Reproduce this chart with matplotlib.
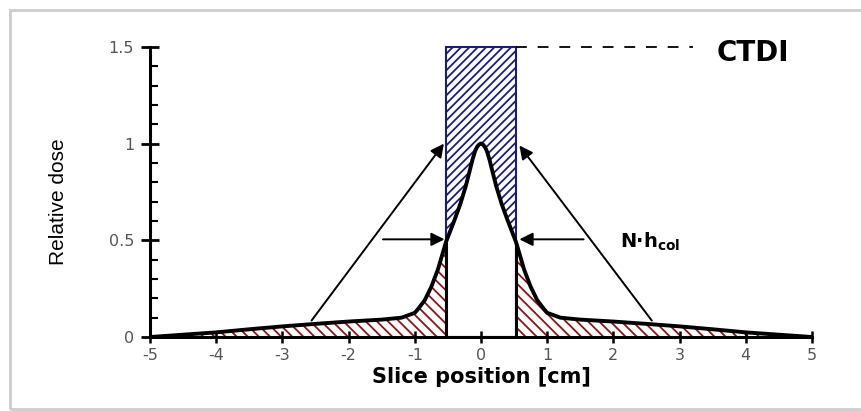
import matplotlib
matplotlib.use("Agg")
import matplotlib.pyplot as plt
import numpy as np
from matplotlib.patches import Rectangle
from matplotlib.ticker import MultipleLocator

plt.rcParams["font.family"] = ["DejaVu Sans"]
plt.rcParams["hatch.linewidth"] = 1.3

# dose profile
pos_cm = [-5.0, -4.5, -4.0, -3.5, -3.0, -2.5, -2.0, -1.5, -1.2, -1.0, -0.95, -0.85,
          -0.75, -0.65, -0.53, -0.40, -0.31, -0.23, -0.17, -0.13, -0.09, -0.06,
          -0.03, 0.0,
          0.03, 0.06, 0.09, 0.13, 0.17, 0.23, 0.31, 0.40, 0.53, 0.65, 0.75, 0.85,
          0.95, 1.0, 1.2, 1.5, 2.0, 2.5, 3.0, 3.5, 4.0, 4.5, 5.0]
rel_dose = [0.0, 0.012, 0.024, 0.04, 0.055, 0.068, 0.08, 0.09, 0.10, 0.125, 0.145, 0.19,
            0.26, 0.35, 0.49, 0.605, 0.69, 0.78, 0.86, 0.915, 0.96, 0.982,
            0.995, 1.0,
            0.995, 0.982, 0.96, 0.915, 0.86, 0.78, 0.69, 0.605, 0.49, 0.35, 0.26, 0.19,
            0.145, 0.125, 0.10, 0.09, 0.08, 0.068, 0.055, 0.04, 0.024, 0.012, 0.0]
half_width = 0.53
ctdi_level = 1.5
x_ticks = [-5, -4, -3, -2, -1, 0, 1, 2, 3, 4, 5]
y_ticks = [0, 0.5, 1, 1.5]
y_tick_labels = ["0", "0.5", "1", "1.5"]

x = np.array(pos_cm)
y = np.array(rel_dose)

fig = plt.figure(figsize=(8.62, 4.11), dpi=100)
ax = fig.add_axes([0.174, 0.180, 0.768, 0.706])

red = "#8b1414"
navy = "#1c1c78"

# tails outside the collimated width
grid = np.linspace(-5, 5, 2001)
prof = np.interp(grid, x, y)
outside = np.abs(grid) >= half_width
ax.fill_between(grid, 0, prof, where=outside & (grid < 0), facecolor="white",
                edgecolor=red, hatch="\\\\\\", linewidth=0, zorder=1)
ax.fill_between(grid, 0, prof, where=outside & (grid > 0), facecolor="white",
                edgecolor=red, hatch="\\\\\\", linewidth=0, zorder=1)

# CTDI rectangle part above the profile
inside = np.abs(grid) <= half_width
ax.fill_between(grid[inside], prof[inside], ctdi_level, facecolor="white",
                edgecolor=navy, hatch="////", linewidth=0, zorder=1, clip_on=False)
ax.add_patch(Rectangle((-half_width, 0), 2 * half_width, ctdi_level, fill=False,
                       edgecolor=navy, linewidth=1.5, zorder=2, clip_on=False))
edge_h = np.interp(half_width, x, y)
ax.vlines([-half_width, half_width], 0, edge_h, color="black", linewidth=2.2, zorder=3)

ax.plot(x, y, color="black", linewidth=2.8, zorder=4, solid_joinstyle="round")

# dashed line to label
ax.plot([half_width, 3.2], [ctdi_level, ctdi_level], color="black", linewidth=1.3,
        dashes=(6, 6), clip_on=False, zorder=3)
ax.text(3.56, 1.47, "CTDI", fontsize=20, fontweight="bold", ha="left", va="center")
ax.text(2.1, 0.49, "N\u00b7h$_{\\mathregular{col}}$", fontsize=14, fontweight="bold",
        ha="left", va="center")

arrow = dict(arrowstyle="-|>", color="black", lw=1.4, mutation_scale=20,
             shrinkA=0, shrinkB=0)
ax.annotate("", xy=(-0.56, 1.0), xytext=(-2.56, 0.085), arrowprops=arrow, zorder=5)
ax.annotate("", xy=(0.58, 0.99), xytext=(2.58, 0.085), arrowprops=arrow, zorder=5)
ax.annotate("", xy=(-0.55, 0.505), xytext=(-1.48, 0.505), arrowprops=arrow, zorder=5)
ax.annotate("", xy=(0.58, 0.505), xytext=(1.55, 0.505), arrowprops=arrow, zorder=5)

ax.set_xlim(-5, 5)
ax.set_ylim(0, 1.5)
for side in ("top", "right"):
    ax.spines[side].set_visible(False)
for side in ("left", "bottom"):
    ax.spines[side].set_linewidth(2.2)

ax.set_xticks(x_ticks)
ax.set_xticklabels([str(t) for t in x_ticks])
ax.set_yticks(y_ticks)
ax.set_yticklabels(y_tick_labels)
ax.yaxis.set_minor_locator(MultipleLocator(0.1))
ax.tick_params(axis="x", direction="inout", length=8, width=1.8, pad=4,
               labelsize=11.5, labelcolor="#555555")
ax.tick_params(axis="y", which="major", direction="inout", length=13, width=2, pad=5,
               labelsize=11.5, labelcolor="#555555")
ax.tick_params(axis="y", which="minor", direction="in", length=6, width=1.5)

ax.set_xlabel("Slice position [cm]", fontsize=15, fontweight="bold", labelpad=3)
ax.set_ylabel("Relative dose", fontsize=15, family=["Liberation Sans"])
ax.yaxis.set_label_coords(-0.124, 0.466)

# light frame around the picture
fig.patches.append(Rectangle((10 / 862, 2 / 411), 1.0, 399 / 411, fill=False,
                             edgecolor="#cccccc", linewidth=2,
                             transform=fig.transFigure, figure=fig))

fig.savefig("out.png", dpi=100)
